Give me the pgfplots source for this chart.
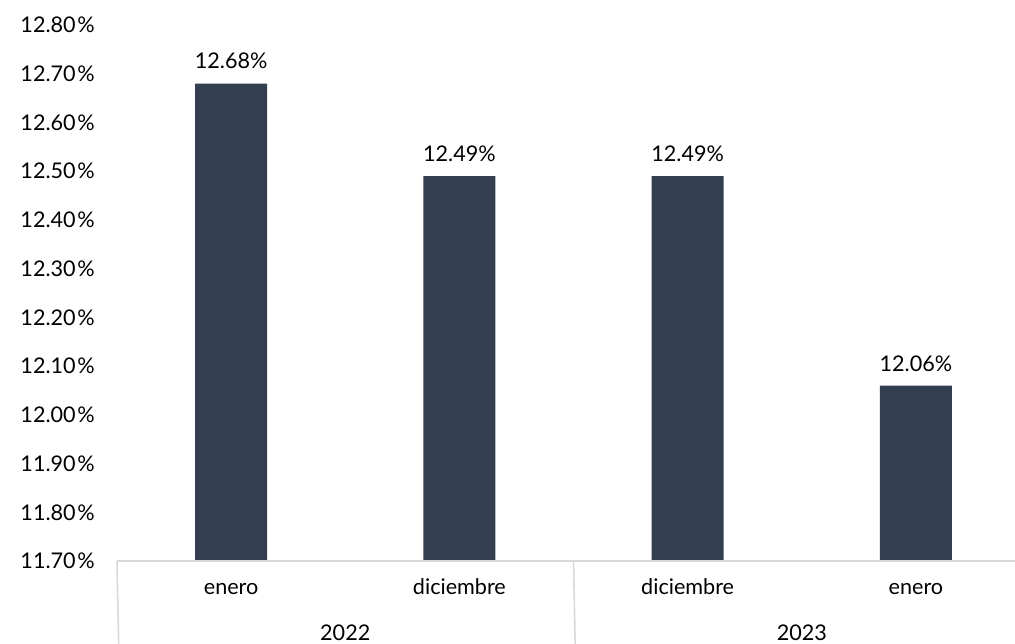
\documentclass[border=0pt]{standalone}
\usepackage{fontspec}
\setmainfont{Lato}
\usepackage{pgfplots}
\pgfplotsset{compat=1.18}
\definecolor{barcol}{RGB}{51,63,80}
\definecolor{sepgray}{RGB}{217,217,217}

\begin{document}
\begin{tikzpicture}
\useasboundingbox (0,0) rectangle (507.5pt,321.5pt);
\begin{axis}[
    at={(58.5pt,41pt)}, anchor=south west,
    scale only axis,
    width=449pt, height=268pt,
    xmin=-0.5, xmax=3.434,
    ymin=11.7, ymax=12.8,
    axis line style={draw=none},
    clip=false,
    ybar, bar width=36pt,
    font=\fontsize{10.8}{13}\selectfont,
    /pgf/number format/assume math mode=true,
    ytick={11.7,11.8,11.9,12.0,12.1,12.2,12.3,12.4,12.5,12.6,12.7,12.8},
    yticklabel={\pgfmathprintnumber[fixed,fixed zerofill,precision=2]{\tick}\kern0.8pt\%},
    yticklabel style={anchor=east, inner sep=0pt, xshift=-11pt},
    xtick=data,
    xticklabels={enero,diciembre,diciembre,enero},
    xticklabel style={anchor=base, inner sep=0pt, yshift=-16.5pt},
    major tick length=0pt,
    nodes near coords={\pgfmathprintnumber[fixed,fixed zerofill,precision=2]{\pgfplotspointmeta}\%},
    nodes near coords style={anchor=south, inner sep=0pt, yshift=7pt, font=\fontsize{10.8}{13}\selectfont},
]
\addplot[fill=barcol, draw=none] coordinates {
    (0,12.68)
    (1,12.49)
    (2,12.49)
    (3,12.06)
};
% category frame lines
\draw[sepgray, line width=0.8pt] (axis cs:-0.5,11.7) -- (axis cs:3.434,11.7);
\draw[sepgray, line width=0.8pt] (axis cs:-0.5,11.7) -- ++(0,-41pt);
\draw[sepgray, line width=0.8pt] (axis cs:1.5,11.7) -- ++(0,-41pt);
% year labels
\node[anchor=base, inner sep=0pt] at ([yshift=-39.5pt]axis cs:0.5,11.7) {2022};
\node[anchor=base, inner sep=0pt] at ([yshift=-39.5pt]axis cs:2.5,11.7) {2023};
\end{axis}
\end{tikzpicture}
\end{document}
